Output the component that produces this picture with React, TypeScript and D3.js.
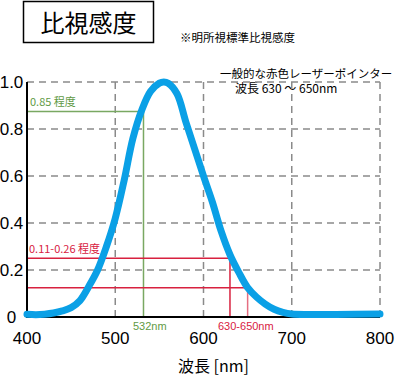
import React from "react";
import * as d3 from "d3";

const wavelengths = [400, 410, 420, 430, 440, 450, 460, 470, 480, 490, 500, 510, 520, 530, 540, 550, 555, 560, 570, 580, 590, 600, 610, 620, 630, 640, 650, 660, 670, 680, 690, 700, 720, 750, 800];
const sensitivity = [0.012, 0.01, 0.012, 0.017, 0.026, 0.04, 0.07, 0.13, 0.2, 0.3, 0.42, 0.58, 0.76, 0.88, 0.96, 0.995, 1.0, 0.995, 0.95, 0.83, 0.715, 0.6, 0.49, 0.365, 0.265, 0.19, 0.125, 0.085, 0.055, 0.033, 0.02, 0.013, 0.011, 0.011, 0.013];
const xTicks = [400, 500, 600, 700, 800];
const yTicks = [0, 0.2, 0.4, 0.6, 0.8, 1.0];
const yTickLabels = ["0", "0.2", "0.4", "0.6", "0.8", "1.0"];
const greenMark = { nm: 532, level: 0.875, label: "0.85 程度", axisLabel: "532nm" };
const redMarks = [
  { nm: 630, level: 0.25 },
  { nm: 650, level: 0.125 },
];
const redLabel = "0.11-0.26 程度";
const redAxisLabel = "630-650nm";
const title = "比視感度";
const subtitle = "※明所視標準比視感度";
const noteLines = ["一般的な赤色レーザーポインター", "波長  630 〜 650nm"];
const xTitle = "波長 [nm]";

const W = 397;
const H = 376;
const FONT = "'Liberation Sans', 'Noto Sans CJK JP', Arial, sans-serif";
const JP = "'Noto Sans CJK JP', 'Liberation Sans', sans-serif";

export default function App() {
  const x = d3.scaleLinear().domain([400, 800]).range([27, 380]);
  const y = d3.scaleLinear().domain([0, 1]).range([317, 82]);
  const line = d3
    .line<number>()
    .x((_, i) => x(wavelengths[i]))
    .y((d) => y(d))
    .curve(d3.curveCatmullRom.alpha(0.5));
  const grid = "#8a8a8a";
  const green = "#79a862";
  const red = "#d8213f";
  return (
    <svg width={W} height={H} style={{ position: "absolute", left: 0, top: 0, background: "#fff" }}>
      <rect x={23.5} y={1.5} width={130} height={41} fill="#fff" stroke="#000" strokeWidth={1.5} />
      <text x={88.5} y={32} textAnchor="middle" fontFamily={JP} fontSize={24} fill="#000">{title}</text>
      <text x={180} y={42} fontFamily={JP} fontSize={11.5} fill="#000">{subtitle}</text>
      <text x={220} y={78} fontFamily={JP} fontSize={11.5} fill="#000">{noteLines[0]}</text>
      <text x={235} y={93} fontFamily={JP} fontSize={12} fill="#000">{noteLines[1]}</text>

      {yTicks.filter((t) => t > 0).map((t) => (
        <line key={"gy" + t} x1={x(400)} x2={x(800)} y1={y(t)} y2={y(t)} stroke={grid} strokeWidth={1.5} strokeDasharray="7,5" />
      ))}
      {xTicks.filter((t) => t > 400).map((t) => (
        <line key={"gx" + t} x1={x(t)} x2={x(t)} y1={y(0)} y2={y(1)} stroke={grid} strokeWidth={1.5} strokeDasharray="7,5" />
      ))}

      <line x1={x(400)} x2={x(greenMark.nm)} y1={y(greenMark.level)} y2={y(greenMark.level)} stroke={green} strokeWidth={1.5} />
      <line x1={x(greenMark.nm)} x2={x(greenMark.nm)} y1={y(0)} y2={y(greenMark.level)} stroke={green} strokeWidth={1.5} />
      <text x={30} y={106} fontFamily={JP} fontSize={11} fill="#5f9a45">{greenMark.label}</text>
      <text x={133} y={330} fontFamily={FONT} fontSize={11} fill="#5f9a45">{greenMark.axisLabel}</text>

      {redMarks.map((m, i) => (
        <g key={"r" + i}>
          <line x1={x(400)} x2={x(m.nm)} y1={y(m.level)} y2={y(m.level)} stroke={red} strokeWidth={1.5} />
          <line x1={x(m.nm)} x2={x(m.nm)} y1={y(0)} y2={y(m.level)} stroke={red} strokeWidth={1.5} opacity={i === 1 ? 0.65 : 1} />
        </g>
      ))}
      <text x={29} y={253} fontFamily={JP} fontSize={11} fill={red}>{redLabel}</text>
      <text x={218} y={330} fontFamily={FONT} fontSize={11} fill={red}>{redAxisLabel}</text>

      <line x1={x(400)} x2={x(400)} y1={y(0) + 1} y2={y(1)} stroke="#000" strokeWidth={2} />
      <line x1={x(400)} x2={x(800)} y1={y(0)} y2={y(0)} stroke="#000" strokeWidth={2} />

      <path d={line(sensitivity) || ""} fill="none" stroke="#0aa0e6" strokeWidth={7} strokeLinecap="round" strokeLinejoin="round" />

      {yTicks.map((t, i) => (
        <text key={"yl" + t} x={11.5} y={y(t)} dy="0.36em" textAnchor="middle" fontFamily={FONT} fontSize={17} fill="#000">{yTickLabels[i]}</text>
      ))}
      {xTicks.map((t) => (
        <text key={"xl" + t} x={x(t)} y={344} textAnchor="middle" fontFamily={FONT} fontSize={17} fill="#000">{t}</text>
      ))}
      <text x={213.5} y={372} textAnchor="middle" fontFamily={JP} fontSize={16} fill="#000">{xTitle}</text>
    </svg>
  );
}
